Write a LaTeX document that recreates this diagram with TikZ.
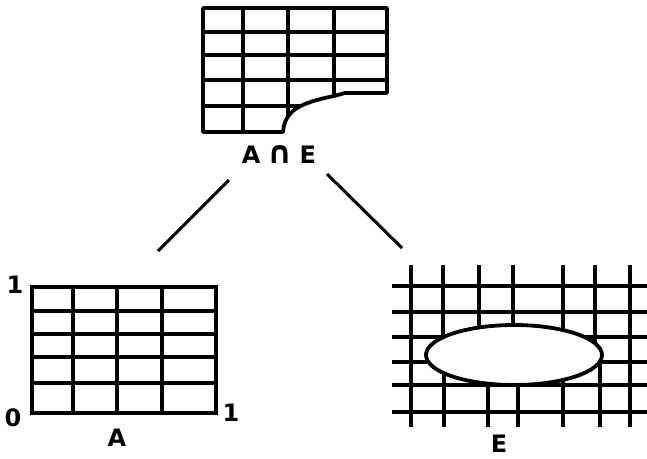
\documentclass[tikz,border=0pt]{standalone}
\usepackage{fontspec}
\setmainfont{DejaVu Sans}
\begin{document}
\begin{tikzpicture}[x=1pt,y=-1pt,
  gridline/.style={line width=3.8pt,line cap=rect},
  edge/.style={line width=3pt},
  lbl/.style={font=\fontsize{24}{24}\selectfont\bfseries,inner sep=0pt,anchor=center}]
\useasboundingbox (0,0) rectangle (647,458);
% ---- top grid A n E ----
\begin{scope}
  \clip (203,8) -- (387,8) -- (387,93) -- (345,93) -- (334,96)
        .. controls (300,103) and (285,110) .. (283,132) -- (203,132) -- cycle;
  \foreach \yy in {32,55,80,106} \draw[gridline] (203,\yy) -- (387,\yy);
  \foreach \xx in {243,288,334} \draw[gridline] (\xx,8) -- (\xx,132);
\end{scope}
\draw[gridline,line join=round] (203,8) -- (387,8) -- (387,93) -- (345,93) -- (334,96)
        .. controls (300,103) and (285,110) .. (283,132) -- (203,132) -- cycle;
\node[lbl] (ae) at (279,155) {A\hspace{7pt}{\fontsize{31}{31}\selectfont ∩}\hspace{7pt}E};
% ---- grid A ----
\foreach \yy in {311,334,357,383} \draw[gridline] (32,\yy) -- (216,\yy);
\foreach \xx in {73,117,162} \draw[gridline] (\xx,287) -- (\xx,413);
\draw[gridline] (32,287) rectangle (216,413);
\node[lbl] (one1) at (15,285) {1};
\node[lbl] (zero) at (13,418) {0};
\node[lbl] (one2) at (231,413) {1};
\node[lbl] (a) at (117,438) {A};
% ---- grid E ----
\foreach \yy in {286,312,337,362,385,412} \draw[gridline,line cap=butt] (392,\yy) -- (647,\yy);
\foreach \xx in {411,443,479,513,563,595,630} \draw[gridline,line cap=butt] (\xx,265) -- (\xx,355);
\foreach \xx in {411,444,488,518,563,600,630} \draw[gridline,line cap=butt] (\xx,355) -- (\xx,427);
\draw[gridline,fill=white] (514,355) ellipse [x radius=88, y radius=30];
\node[lbl] (e) at (499,444) {E};
% ---- connectors ----
\coordinate (l1) at (229,180);
\coordinate (l2) at (158,251);
\coordinate (r1) at (327,174);
\coordinate (r2) at (402,248);
\draw[edge] (l1) -- (l2);
\draw[edge] (r1) -- (r2);
\end{tikzpicture}
\end{document}
